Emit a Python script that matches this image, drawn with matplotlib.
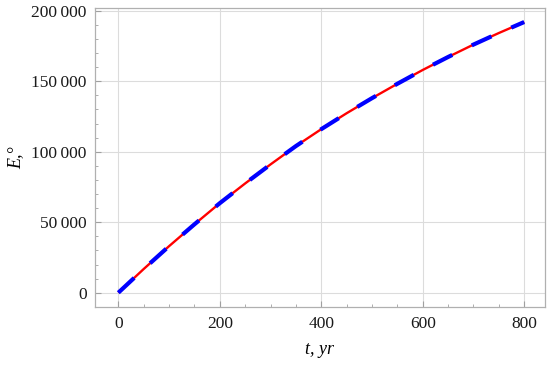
import matplotlib
matplotlib.use("Agg")
import matplotlib.pyplot as plt
from matplotlib.ticker import MultipleLocator, FuncFormatter

# readings
t_years = [0, 50, 100, 150, 200, 250, 300, 350, 400, 450, 500, 550, 600, 650, 700, 750, 800]
energy = [0, 16800, 33000, 48500, 63500, 77500, 91000, 104000, 116000, 127300,
          138000, 148200, 158000, 167200, 176000, 184200, 192000]

plt.rcParams['font.family'] = ['Liberation Serif', 'DejaVu Serif']

fig = plt.figure(figsize=(5.5, 3.67), dpi=100)
ax = fig.add_axes([0.1727, 0.1627, 0.8182, 0.8153])

ax.plot(t_years, energy, color='#ff0000', lw=1.7, solid_capstyle='butt', zorder=3)
ax.plot(t_years, energy, color='#0000ff', lw=3.0, dashes=(5.2, 5.2),
        dash_capstyle='butt', zorder=4)

ax.set_xlim(-46, 841)
ax.set_ylim(-10350, 201900)

ax.xaxis.set_major_locator(MultipleLocator(200))
ax.xaxis.set_minor_locator(MultipleLocator(50))
ax.yaxis.set_major_locator(MultipleLocator(50000))
ax.yaxis.set_minor_locator(MultipleLocator(10000))


def thin_sep(v, pos):
    return format(int(round(v)), ',').replace(',', '\u2009')


ax.yaxis.set_major_formatter(FuncFormatter(thin_sep))

ax.grid(True, which='major', color='#dcdcdc', lw=0.8)
for s in ax.spines.values():
    s.set_color('#b0b0b0')
    s.set_linewidth(0.9)

ax.tick_params(which='major', direction='in', length=4.2, width=0.8, color='#a0a0a0',
               labelsize=12.5, labelcolor='#1a1a1a', pad=6)
ax.tick_params(which='minor', direction='in', length=2.2, width=0.6, color='#a0a0a0')

ax.set_xlabel('t, yr', style='italic', fontsize=13)
ax.set_ylabel('E,°', style='italic', fontsize=13)
ax.xaxis.set_label_coords(0.5, -0.112)
ax.yaxis.set_label_coords(-0.158, 0.5)

fig.savefig('out.png', dpi=100)
